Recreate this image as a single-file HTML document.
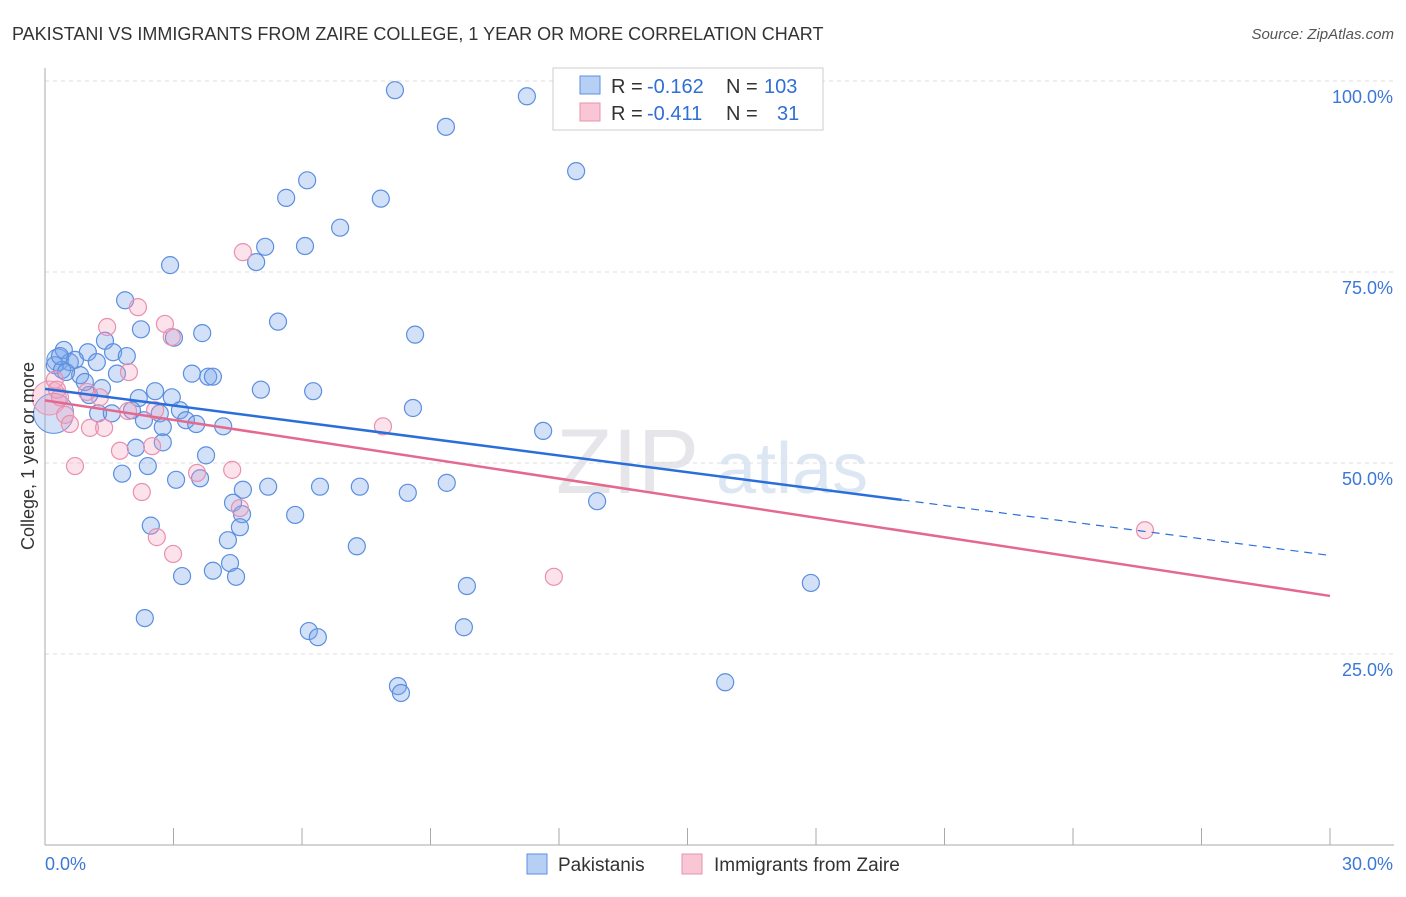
<!DOCTYPE html>
<html><head><meta charset="utf-8"><style>
body{margin:0;background:#fff;font-family:"Liberation Sans",sans-serif}
svg text{font-family:"Liberation Sans",sans-serif}
</style></head><body>
<svg id="chart" width="1406" height="892">
<text x="12" y="40" font-size="18" fill="#333">PAKISTANI VS IMMIGRANTS FROM ZAIRE COLLEGE, 1 YEAR OR MORE CORRELATION CHART</text>
<text x="1394" y="39" font-size="15" fill="#555" text-anchor="end" font-style="italic">Source: ZipAtlas.com</text>
<text x="556" y="493" font-size="92" fill="#e6e6ea" font-family="Liberation Serif">ZIP</text>
<text x="716" y="493" font-size="72" fill="#dde6f3">atlas</text>
<g id="grid"></g><g id="pts"></g><g id="lines"></g>
<text x="34" y="456" font-size="18" fill="#333" text-anchor="middle" transform="rotate(-90 34 456)">College, 1 year or more</text>
<g>
<rect x="553" y="68" width="270" height="62" fill="#fff" stroke="#ccc"/>
<rect x="580" y="76" width="20" height="18" fill="#b6d0f5" stroke="#5b8fe0"/>
<rect x="580" y="103" width="20" height="18" fill="#f9c6d6" stroke="#e990ad"/>
<text x="611" y="93" font-size="20" fill="#333">R =</text><text x="647" y="93" font-size="20" fill="#2f6fd6">-0.162</text>
<text x="726" y="93" font-size="20" fill="#333">N =</text><text x="764" y="93" font-size="20" fill="#2f6fd6">103</text>
<text x="611" y="120" font-size="20" fill="#333">R =</text><text x="647" y="120" font-size="20" fill="#2f6fd6">-0.411</text>
<text x="726" y="120" font-size="20" fill="#333">N =</text><text x="777" y="120" font-size="20" fill="#2f6fd6">31</text>
</g>
<g>
<rect x="527" y="854" width="20" height="20" fill="#b6d0f5" stroke="#5b8fe0"/>
<text x="558" y="871" font-size="19" fill="#333">Pakistanis</text>
<rect x="682" y="854" width="20" height="20" fill="#f9c6d6" stroke="#e990ad"/>
<text x="714" y="871" font-size="19" fill="#333">Immigrants from Zaire</text>
</g>
</svg>
<script>
const yTicks=[25,50,75,100];
const xTickLabels=["0.0%","30.0%"];
const blueX=[8.17,11.25,9.36,12.40,6.12,5.63,7.84,6.89,5.14,6.07,4.93,2.92,1.87,2.24,5.44,3.67,3.01,8.64,1.40,0.44,1.00,1.59,1.91,0.58,1.21,0.82,3.43,3.81,3.92,1.68,5.04,6.26,2.57,2.96,1.03,1.33,2.19,8.59,3.15,1.24,1.56,2.03,2.68,2.31,3.29,3.53,4.16,2.75,11.63,2.75,2.12,1.80,2.40,3.76,3.06,3.62,5.21,6.42,7.35,8.47,9.38,4.62,4.39,4.60,5.84,12.89,2.47,4.55,4.27,7.28,4.32,3.20,3.92,4.46,9.85,17.88,2.33,6.16,6.37,9.78,8.24,8.31,15.88,0.23,0.40,0.70,0.49,0.93,0.35];
const blueY=[98.8,98.0,94.0,88.2,87.0,84.7,84.6,80.8,78.3,78.4,76.3,75.9,71.3,67.5,68.5,67.0,66.4,66.8,66.0,64.8,64.5,64.5,64.0,63.2,63.2,61.5,61.7,61.3,61.3,61.7,59.6,59.4,59.4,58.6,58.9,59.8,58.5,57.2,56.9,56.5,56.5,56.9,56.5,55.6,55.6,55.1,54.8,54.7,54.2,52.7,52.0,48.6,49.6,51.0,47.8,48.0,46.9,46.9,46.9,46.1,47.4,46.5,44.8,43.3,43.2,45.0,41.8,41.6,39.9,39.1,36.9,35.2,35.9,35.1,33.9,34.3,29.7,28.0,27.2,28.5,20.8,19.9,21.3,62.8,62.2,63.5,61.9,60.6,64.0];
const pinkX=[4.62,2.17,1.45,2.80,2.96,1.96,0.23,0.28,0.35,0.98,1.28,1.94,2.57,7.89,0.47,0.58,1.05,1.38,1.75,2.50,0.70,2.26,3.55,4.37,4.55,2.61,2.99,11.88,25.68];
const pinkY=[77.6,70.4,67.8,68.2,66.5,61.9,60.9,59.6,58.6,59.3,58.6,56.8,56.9,54.8,56.3,55.1,54.6,54.6,51.6,52.2,49.6,46.2,48.7,49.1,44.1,40.3,38.1,35.1,41.2];
const blueTrend=[59.7,37.9]; // y at x=0 and x=30
const blueSolidEnd=20.0;
const pinkTrend=[58.2,32.6];
const X0=45,X1=1330,Y0=845,YH=764;
const sx=v=>X0+v/30*(X1-X0), sy=v=>Y0-v/100*YH;
const NS='http://www.w3.org/2000/svg';
function mk(t,a,parent){const e=document.createElementNS(NS,t);for(const k in a)e.setAttribute(k,a[k]);document.getElementById(parent).appendChild(e);return e;}
yTicks.forEach(t=>{
 const l=mk('line',{x1:X0,x2:1394,y1:sy(t),y2:sy(t),stroke:'#ddd','stroke-dasharray':'4 4'},'grid');
 
 
 const tx=mk('text',{x:1393,y:sy(t)+22,'font-size':18,fill:'#3b78d8','text-anchor':'end'},'grid');
 tx.textContent=t.toFixed(1)+'%';
 
 
});
mk('line',{x1:X0,x2:X0,y1:68,y2:Y0,stroke:'#aaa'},'grid');
mk('line',{x1:X0,x2:1394,y1:Y0,y2:Y0,stroke:'#aaa'},'grid');
for(let i=0;i<=10;i++){const x=X0+i*(X1-X0)/10;mk('line',{x1:x,x2:x,y1:828,y2:Y0,stroke:'#aaa'},'grid');}
xTickLabels.forEach((s,i)=>{const t=mk('text',{x:i?1393:45,y:870,'font-size':18,fill:'#3b78d8','text-anchor':i?'end':'start'},'grid');t.textContent=s;
 
 });
[[0.2,56.5,20,'b'],[0.3,63.5,11,'b'],[0.1,58.5,17,'p']].forEach(p=>{const c=mk('circle',{cx:sx(p[0]),cy:sy(p[1]),r:p[2],fill:p[3]=='b'?'rgba(120,165,235,0.33)':'rgba(245,160,190,0.35)',stroke:p[3]=='b'?'#5b8fe0':'#e990ad'},'pts');
 
 });
blueX.forEach((x,i)=>{const c=mk('circle',{cx:sx(x),cy:sy(blueY[i]),r:8.5,fill:'rgba(120,165,235,0.33)',stroke:'#5b8fe0','stroke-width':1.2},'pts');
 
 });
pinkX.forEach((x,i)=>{const c=mk('circle',{cx:sx(x),cy:sy(pinkY[i]),r:8.5,fill:'rgba(245,160,190,0.3)',stroke:'#e990ad','stroke-width':1.2},'pts');
 
 });
const by=x=>blueTrend[0]+(blueTrend[1]-blueTrend[0])*x/30;
let l=mk('line',{x1:sx(0),y1:sy(by(0)),x2:sx(blueSolidEnd),y2:sy(by(blueSolidEnd)),stroke:'#2a6fd9','stroke-width':2.5},'lines');


l=mk('line',{x1:sx(blueSolidEnd),y1:sy(by(blueSolidEnd)),x2:sx(30),y2:sy(by(30)),stroke:'#2a6fd9','stroke-width':1.2,'stroke-dasharray':'8 6'},'lines');


l=mk('line',{x1:sx(0),y1:sy(pinkTrend[0]),x2:sx(30),y2:sy(pinkTrend[1]),stroke:'#e4698f','stroke-width':2.5},'lines');


</script>
</body></html>
